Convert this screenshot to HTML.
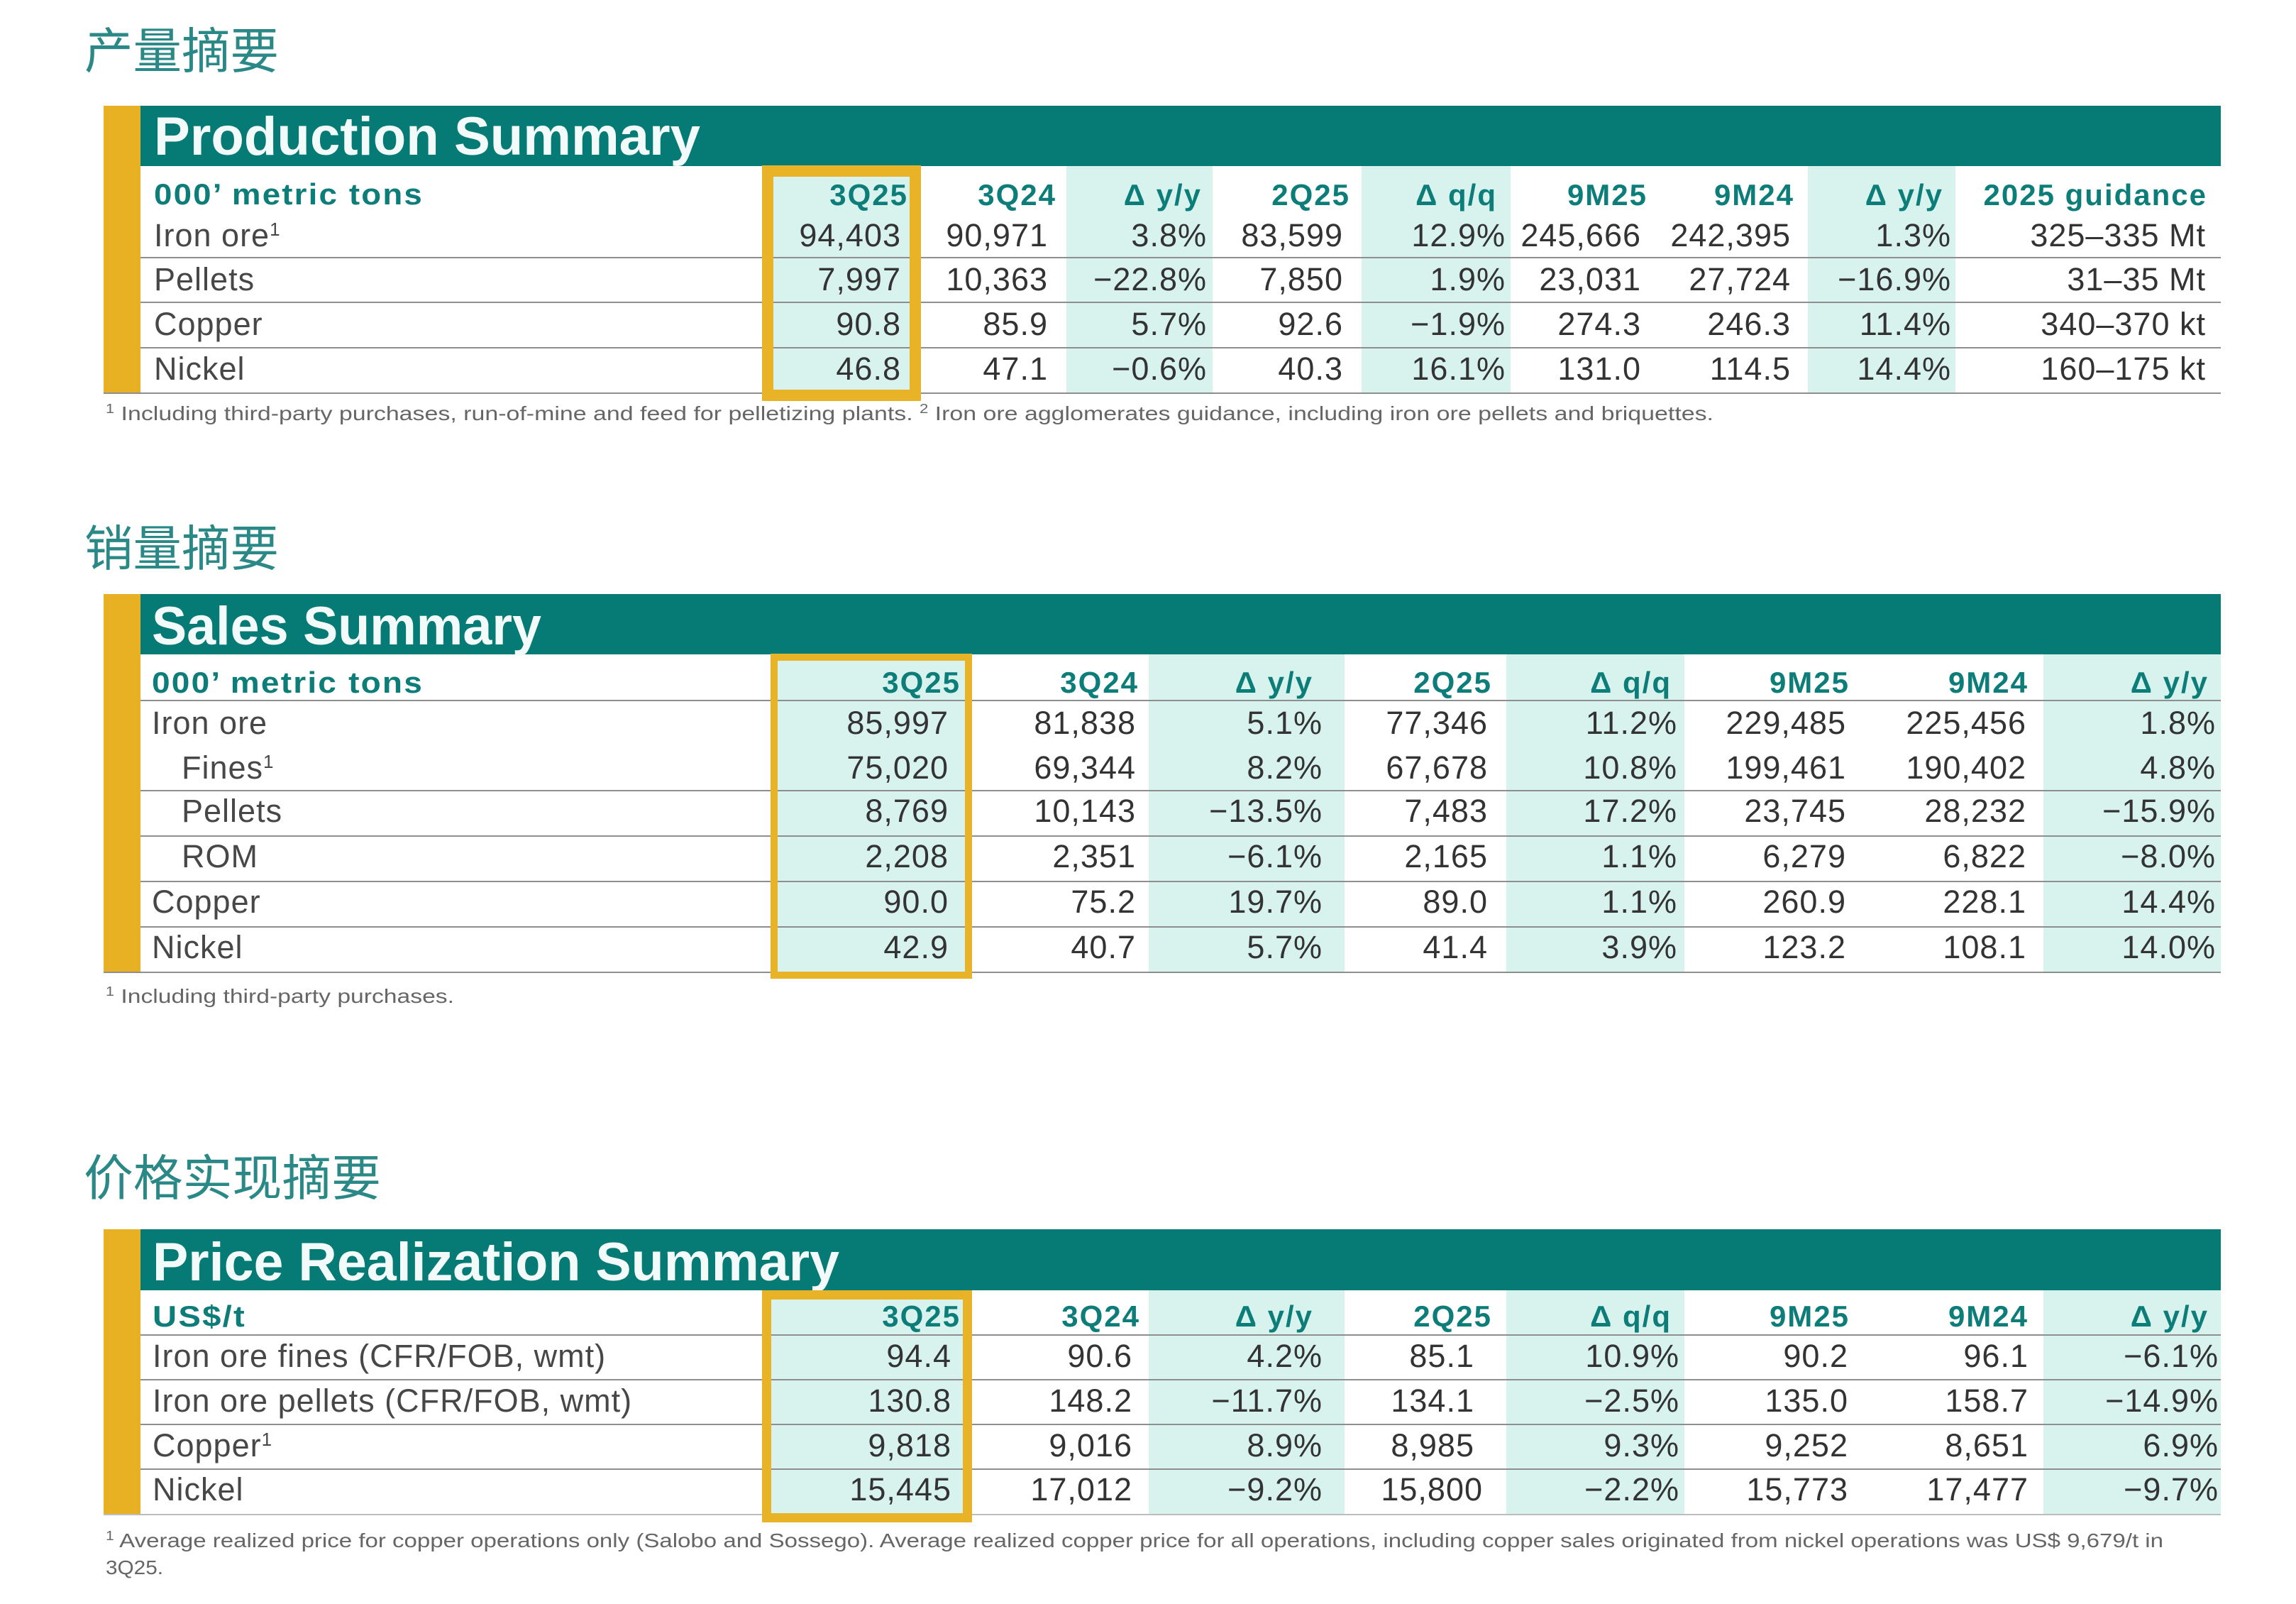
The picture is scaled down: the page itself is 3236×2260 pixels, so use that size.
<!DOCTYPE html>
<html>
<head>
<meta charset="utf-8">
<style>
html,body{margin:0;padding:0;background:#fff;}
body{width:3236px;height:2260px;overflow:hidden;}
svg{display:block;}
.t{font-family:"Liberation Sans",sans-serif;}
.cn{font-family:"Noto Sans CJK SC","WenQuanYi Zen Hei",sans-serif;font-size:69px;fill:#2a8986;}
.ttl{font-family:"Liberation Sans",sans-serif;font-weight:bold;font-size:76px;fill:#f2fbfa;}
.h{font-family:"Liberation Sans",sans-serif;font-weight:bold;font-size:42px;fill:#0c7d78;letter-spacing:2px;}
.e{text-anchor:end;}
.d{font-family:"Liberation Sans",sans-serif;font-size:45px;fill:#333;letter-spacing:1px;}
.l{font-family:"Liberation Sans",sans-serif;font-size:45px;fill:#474747;letter-spacing:1px;}
.fn{font-family:"Liberation Sans",sans-serif;font-size:28px;fill:#666;}
</style>
</head>
<body>
<svg width="3236" height="2260" viewBox="0 0 3236 2260" xmlns="http://www.w3.org/2000/svg">
<rect x="0" y="0" width="3236" height="2260" fill="#ffffff"/>

<!-- ================= TABLE 1 ================= -->
<text class="cn" x="119" y="96" textLength="274" lengthAdjust="spacingAndGlyphs">产量摘要</text>

<rect x="146" y="149" width="52" height="406" fill="#e8b124"/>
<rect x="198" y="149" width="2932" height="85" fill="#067a74"/>
<text class="ttl" x="217" y="218" textLength="770" lengthAdjust="spacingAndGlyphs">Production Summary</text>

<rect x="1074" y="234" width="224" height="320" fill="#d8f2ed"/>
<rect x="1503" y="234" width="206" height="320" fill="#d8f2ed"/>
<rect x="1919" y="234" width="210" height="320" fill="#d8f2ed"/>
<rect x="2548" y="234" width="208" height="320" fill="#d8f2ed"/>

<rect x="198" y="362" width="2932" height="2" fill="#8e8e8e"/>
<rect x="198" y="425" width="2932" height="2" fill="#8e8e8e"/>
<rect x="198" y="489" width="2932" height="2" fill="#8e8e8e"/>
<rect x="146" y="553" width="2984" height="2" fill="#8e8e8e"/>

<text class="h" x="217" y="288" textLength="380" lengthAdjust="spacingAndGlyphs">000’ metric tons</text>
<text class="h e" x="1280" y="289">3Q25</text>
<text class="h e" x="1489" y="289">3Q24</text>
<text class="h e" x="1694" y="289">Δ y/y</text>
<text class="h e" x="1903" y="289">2Q25</text>
<text class="h e" x="2110" y="289">Δ q/q</text>
<text class="h e" x="2322" y="289">9M25</text>
<text class="h e" x="2529" y="289">9M24</text>
<text class="h e" x="2739" y="289">Δ y/y</text>
<text class="h e" x="3111" y="289">2025 guidance</text>

<text class="l" x="217" y="347">Iron ore<tspan font-size="26" baseline-shift="super">1</tspan></text>
<text class="d e" x="1270" y="347">94,403</text>
<text class="d e" x="1477" y="347">90,971</text>
<text class="d e" x="1701" y="347">3.8%</text>
<text class="d e" x="1893" y="347">83,599</text>
<text class="d e" x="2122" y="347">12.9%</text>
<text class="d e" x="2313" y="347">245,666</text>
<text class="d e" x="2524" y="347">242,395</text>
<text class="d e" x="2750" y="347">1.3%</text>
<text class="d e" x="3109" y="347">325–335 Mt</text>

<text class="l" x="217" y="409">Pellets</text>
<text class="d e" x="1270" y="409">7,997</text>
<text class="d e" x="1477" y="409">10,363</text>
<text class="d e" x="1701" y="409">−22.8%</text>
<text class="d e" x="1893" y="409">7,850</text>
<text class="d e" x="2122" y="409">1.9%</text>
<text class="d e" x="2313" y="409">23,031</text>
<text class="d e" x="2524" y="409">27,724</text>
<text class="d e" x="2750" y="409">−16.9%</text>
<text class="d e" x="3109" y="409">31–35 Mt</text>

<text class="l" x="217" y="472">Copper</text>
<text class="d e" x="1270" y="472">90.8</text>
<text class="d e" x="1477" y="472">85.9</text>
<text class="d e" x="1701" y="472">5.7%</text>
<text class="d e" x="1893" y="472">92.6</text>
<text class="d e" x="2122" y="472">−1.9%</text>
<text class="d e" x="2313" y="472">274.3</text>
<text class="d e" x="2524" y="472">246.3</text>
<text class="d e" x="2750" y="472">11.4%</text>
<text class="d e" x="3109" y="472">340–370 kt</text>

<text class="l" x="217" y="535">Nickel</text>
<text class="d e" x="1270" y="535">46.8</text>
<text class="d e" x="1477" y="535">47.1</text>
<text class="d e" x="1701" y="535">−0.6%</text>
<text class="d e" x="1893" y="535">40.3</text>
<text class="d e" x="2122" y="535">16.1%</text>
<text class="d e" x="2313" y="535">131.0</text>
<text class="d e" x="2524" y="535">114.5</text>
<text class="d e" x="2750" y="535">14.4%</text>
<text class="d e" x="3109" y="535">160–175 kt</text>

<rect x="1082" y="241" width="208" height="316" fill="none" stroke="#e9b327" stroke-width="16"/>

<text class="fn" x="149" y="592" textLength="2266" lengthAdjust="spacingAndGlyphs"><tspan font-size="18" baseline-shift="super">1</tspan> Including third-party purchases, run-of-mine and feed for pelletizing plants. <tspan font-size="18" baseline-shift="super">2</tspan> Iron ore agglomerates guidance, including iron ore pellets and briquettes.</text>

<!-- ================= TABLE 2 ================= -->
<text class="cn" x="119" y="797" textLength="274" lengthAdjust="spacingAndGlyphs">销量摘要</text>

<rect x="146" y="837" width="52" height="533" fill="#e8b124"/>
<rect x="198" y="837" width="2932" height="85" fill="#067a74"/>
<text class="ttl" x="214" y="908" textLength="549" lengthAdjust="spacingAndGlyphs">Sales Summary</text>

<rect x="1086" y="922" width="284" height="448" fill="#d8f2ed"/>
<rect x="1619" y="922" width="276" height="448" fill="#d8f2ed"/>
<rect x="2123" y="922" width="251" height="448" fill="#d8f2ed"/>
<rect x="2880" y="922" width="250" height="448" fill="#d8f2ed"/>

<rect x="198" y="986" width="2932" height="2" fill="#8e8e8e"/>
<rect x="198" y="1113" width="2932" height="2" fill="#8e8e8e"/>
<rect x="198" y="1177" width="2932" height="2" fill="#8e8e8e"/>
<rect x="198" y="1241" width="2932" height="2" fill="#8e8e8e"/>
<rect x="198" y="1305" width="2932" height="2" fill="#8e8e8e"/>
<rect x="146" y="1369" width="2984" height="2" fill="#8e8e8e"/>

<text class="h" x="214" y="976" textLength="383" lengthAdjust="spacingAndGlyphs">000’ metric tons</text>
<text class="h e" x="1354" y="976">3Q25</text>
<text class="h e" x="1605" y="976">3Q24</text>
<text class="h e" x="1851" y="976">Δ y/y</text>
<text class="h e" x="2103" y="976">2Q25</text>
<text class="h e" x="2356" y="976">Δ q/q</text>
<text class="h e" x="2607" y="976">9M25</text>
<text class="h e" x="2859" y="976">9M24</text>
<text class="h e" x="3113" y="976">Δ y/y</text>

<text class="l" x="214" y="1034">Iron ore</text>
<text class="d e" x="1337" y="1034">85,997</text>
<text class="d e" x="1601" y="1034">81,838</text>
<text class="d e" x="1864" y="1034">5.1%</text>
<text class="d e" x="2097" y="1034">77,346</text>
<text class="d e" x="2364" y="1034">11.2%</text>
<text class="d e" x="2602" y="1034">229,485</text>
<text class="d e" x="2856" y="1034">225,456</text>
<text class="d e" x="3123" y="1034">1.8%</text>

<text class="l" x="256" y="1097">Fines<tspan font-size="26" baseline-shift="super">1</tspan></text>
<text class="d e" x="1337" y="1097">75,020</text>
<text class="d e" x="1601" y="1097">69,344</text>
<text class="d e" x="1864" y="1097">8.2%</text>
<text class="d e" x="2097" y="1097">67,678</text>
<text class="d e" x="2364" y="1097">10.8%</text>
<text class="d e" x="2602" y="1097">199,461</text>
<text class="d e" x="2856" y="1097">190,402</text>
<text class="d e" x="3123" y="1097">4.8%</text>

<text class="l" x="256" y="1158">Pellets</text>
<text class="d e" x="1337" y="1158">8,769</text>
<text class="d e" x="1601" y="1158">10,143</text>
<text class="d e" x="1864" y="1158">−13.5%</text>
<text class="d e" x="2097" y="1158">7,483</text>
<text class="d e" x="2364" y="1158">17.2%</text>
<text class="d e" x="2602" y="1158">23,745</text>
<text class="d e" x="2856" y="1158">28,232</text>
<text class="d e" x="3123" y="1158">−15.9%</text>

<text class="l" x="256" y="1222">ROM</text>
<text class="d e" x="1337" y="1222">2,208</text>
<text class="d e" x="1601" y="1222">2,351</text>
<text class="d e" x="1864" y="1222">−6.1%</text>
<text class="d e" x="2097" y="1222">2,165</text>
<text class="d e" x="2364" y="1222">1.1%</text>
<text class="d e" x="2602" y="1222">6,279</text>
<text class="d e" x="2856" y="1222">6,822</text>
<text class="d e" x="3123" y="1222">−8.0%</text>

<text class="l" x="214" y="1286">Copper</text>
<text class="d e" x="1337" y="1286">90.0</text>
<text class="d e" x="1601" y="1286">75.2</text>
<text class="d e" x="1864" y="1286">19.7%</text>
<text class="d e" x="2097" y="1286">89.0</text>
<text class="d e" x="2364" y="1286">1.1%</text>
<text class="d e" x="2602" y="1286">260.9</text>
<text class="d e" x="2856" y="1286">228.1</text>
<text class="d e" x="3123" y="1286">14.4%</text>

<text class="l" x="214" y="1350">Nickel</text>
<text class="d e" x="1337" y="1350">42.9</text>
<text class="d e" x="1601" y="1350">40.7</text>
<text class="d e" x="1864" y="1350">5.7%</text>
<text class="d e" x="2097" y="1350">41.4</text>
<text class="d e" x="2364" y="1350">3.9%</text>
<text class="d e" x="2602" y="1350">123.2</text>
<text class="d e" x="2856" y="1350">108.1</text>
<text class="d e" x="3123" y="1350">14.0%</text>

<rect x="1091" y="926" width="274" height="448" fill="none" stroke="#e9b327" stroke-width="10"/>

<text class="fn" x="149" y="1413" textLength="491" lengthAdjust="spacingAndGlyphs"><tspan font-size="18" baseline-shift="super">1</tspan> Including third-party purchases.</text>

<!-- ================= TABLE 3 ================= -->
<text class="cn" x="118" y="1684" textLength="419" lengthAdjust="spacingAndGlyphs">价格实现摘要</text>

<rect x="146" y="1732" width="52" height="403" fill="#e8b124"/>
<rect x="198" y="1732" width="2932" height="86" fill="#067a74"/>
<text class="ttl" x="215" y="1804" textLength="968" lengthAdjust="spacingAndGlyphs">Price Realization Summary</text>

<rect x="1074" y="1818" width="296" height="316" fill="#d8f2ed"/>
<rect x="1619" y="1818" width="276" height="316" fill="#d8f2ed"/>
<rect x="2123" y="1818" width="251" height="316" fill="#d8f2ed"/>
<rect x="2880" y="1818" width="250" height="316" fill="#d8f2ed"/>

<rect x="198" y="1880" width="2932" height="2" fill="#8e8e8e"/>
<rect x="198" y="1943" width="2932" height="2" fill="#8e8e8e"/>
<rect x="198" y="2006" width="2932" height="2" fill="#8e8e8e"/>
<rect x="198" y="2069" width="2932" height="2" fill="#8e8e8e"/>
<rect x="146" y="2133" width="2984" height="2" fill="#bdbdbd"/>

<text class="h" x="215" y="1869" textLength="132" lengthAdjust="spacingAndGlyphs">US$/t</text>
<text class="h e" x="1354" y="1869">3Q25</text>
<text class="h e" x="1607" y="1869">3Q24</text>
<text class="h e" x="1851" y="1869">Δ y/y</text>
<text class="h e" x="2103" y="1869">2Q25</text>
<text class="h e" x="2356" y="1869">Δ q/q</text>
<text class="h e" x="2607" y="1869">9M25</text>
<text class="h e" x="2859" y="1869">9M24</text>
<text class="h e" x="3113" y="1869">Δ y/y</text>

<text class="l" x="215" y="1926">Iron ore fines (CFR/FOB, wmt)</text>
<text class="d e" x="1341" y="1926">94.4</text>
<text class="d e" x="1596" y="1926">90.6</text>
<text class="d e" x="1864" y="1926">4.2%</text>
<text class="d e" x="2078" y="1926">85.1</text>
<text class="d e" x="2367" y="1926">10.9%</text>
<text class="d e" x="2605" y="1926">90.2</text>
<text class="d e" x="2859" y="1926">96.1</text>
<text class="d e" x="3127" y="1926">−6.1%</text>

<text class="l" x="215" y="1989">Iron ore pellets (CFR/FOB, wmt)</text>
<text class="d e" x="1341" y="1989">130.8</text>
<text class="d e" x="1596" y="1989">148.2</text>
<text class="d e" x="1864" y="1989">−11.7%</text>
<text class="d e" x="2078" y="1989">134.1</text>
<text class="d e" x="2367" y="1989">−2.5%</text>
<text class="d e" x="2605" y="1989">135.0</text>
<text class="d e" x="2859" y="1989">158.7</text>
<text class="d e" x="3127" y="1989">−14.9%</text>

<text class="l" x="215" y="2052">Copper<tspan font-size="26" baseline-shift="super">1</tspan></text>
<text class="d e" x="1341" y="2052">9,818</text>
<text class="d e" x="1596" y="2052">9,016</text>
<text class="d e" x="1864" y="2052">8.9%</text>
<text class="d e" x="2078" y="2052">8,985</text>
<text class="d e" x="2367" y="2052">9.3%</text>
<text class="d e" x="2605" y="2052">9,252</text>
<text class="d e" x="2859" y="2052">8,651</text>
<text class="d e" x="3127" y="2052">6.9%</text>

<text class="l" x="215" y="2114">Nickel</text>
<text class="d e" x="1341" y="2114">15,445</text>
<text class="d e" x="1596" y="2114">17,012</text>
<text class="d e" x="1864" y="2114">−9.2%</text>
<text class="d e" x="2090" y="2114">15,800</text>
<text class="d e" x="2367" y="2114">−2.2%</text>
<text class="d e" x="2605" y="2114">15,773</text>
<text class="d e" x="2859" y="2114">17,477</text>
<text class="d e" x="3127" y="2114">−9.7%</text>

<rect x="1080.5" y="1824.5" width="283" height="314" fill="none" stroke="#e9b327" stroke-width="13"/>

<text class="fn" x="149" y="2180" textLength="2900" lengthAdjust="spacingAndGlyphs"><tspan font-size="18" baseline-shift="super">1</tspan> Average realized price for copper operations only (Salobo and Sossego). Average realized copper price for all operations, including copper sales originated from nickel operations was US$ 9,679/t in</text>
<text class="fn" x="149" y="2218" textLength="81" lengthAdjust="spacingAndGlyphs">3Q25.</text>
</svg>
</body>
</html>
